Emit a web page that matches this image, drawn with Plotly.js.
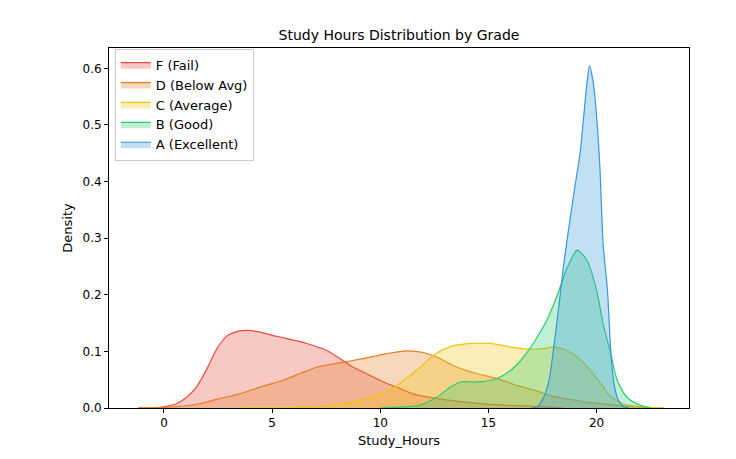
<!DOCTYPE html>
<html>
<head>
<meta charset="utf-8">
<script src="https://cdn.plot.ly/plotly-3.0.1.min.js"></script>
<style>
  body { margin: 0; background: #fff; }
  #chart { width: 736px; height: 459px; }
</style>
</head>
<body>
<div id="chart"></div>
<script>
// grade labels, in legend order
const grades = ["F (Fail)", "D (Below Avg)", "C (Average)", "B (Good)", "A (Excellent)"]
const edgeColors = ["#e74c3c", "#e67e22", "#f1c40f", "#2ecc71", "#3498db"]
const fillColors = [
  "rgba(231,76,60,0.3)",
  "rgba(230,126,34,0.3)",
  "rgba(241,196,15,0.3)",
  "rgba(46,204,113,0.3)",
  "rgba(52,152,219,0.3)",
]

// density curves
const fX = [-1.2, -0.5, 0, 0.6, 1.05, 1.5, 2.0, 2.45, 2.9, 3.35, 3.9, 4.45, 5.05, 5.65, 6.6, 7.5, 8.15, 8.75, 9.4, 10.15, 10.75, 11.5, 12.6, 14.15, 15.7, 17.2, 18.5]
const fY = [0, 0.0005, 0.002, 0.008, 0.019, 0.037, 0.07, 0.105, 0.127, 0.135, 0.137, 0.134, 0.128, 0.123, 0.114, 0.102, 0.087, 0.072, 0.06, 0.046, 0.037, 0.025, 0.017, 0.0095, 0.005, 0.003, 0]

const dX = [-1.2, 0, 1, 1.7, 2.6, 3.5, 4.45, 5.5, 6.3, 7.05, 7.85, 8.6, 9.55, 10.3, 11.2, 12.0, 12.6, 13.55, 14.45, 15.4, 16.3, 17.25, 17.85, 18.8, 20, 21.5, 23.1]
const dY = [0, 0.001, 0.004, 0.008, 0.017, 0.025, 0.037, 0.049, 0.061, 0.072, 0.078, 0.083, 0.09, 0.096, 0.101, 0.098, 0.09, 0.072, 0.061, 0.052, 0.04, 0.03, 0.022, 0.015, 0.008, 0.003, 0]

const cX = [3.5, 6.3, 7.8, 9.4, 10.5, 11.4, 11.85, 12.45, 13.2, 14.15, 15.1, 16.0, 16.8, 17.55, 18.0, 18.6, 19.1, 19.7, 20.2, 20.6, 21.2, 22.0, 23.1]
const cY = [0, 0.001, 0.005, 0.017, 0.033, 0.058, 0.072, 0.093, 0.108, 0.114, 0.114, 0.108, 0.104, 0.105, 0.108, 0.102, 0.09, 0.067, 0.043, 0.022, 0.008, 0.002, 0]

const bX = [10.0, 11.05, 11.85, 12.6, 13.25, 13.7, 14.45, 15.1, 15.7, 16.3, 16.8, 17.25, 17.7, 18.15, 18.65, 19.1, 19.55, 20.0, 20.3, 20.65, 20.95, 21.4, 22.0, 22.5]
const bY = [0, 0.002, 0.005, 0.019, 0.037, 0.046, 0.046, 0.049, 0.058, 0.076, 0.099, 0.125, 0.155, 0.196, 0.249, 0.279, 0.261, 0.208, 0.149, 0.096, 0.049, 0.019, 0.005, 0]

const aX = [17.0, 17.25, 17.55, 17.8, 18.0, 18.25, 18.5, 18.9, 19.25, 19.4, 19.55, 19.67, 19.85, 20.0, 20.15, 20.3, 20.5, 20.65, 20.8, 21.0, 21.25, 21.5]
const aY = [0, 0.002, 0.019, 0.049, 0.102, 0.178, 0.26, 0.367, 0.455, 0.514, 0.573, 0.605, 0.573, 0.514, 0.426, 0.29, 0.208, 0.102, 0.043, 0.014, 0.002, 0]

const xTicks = [0, 5, 10, 15, 20]
const yTicks = [0, 0.1, 0.2, 0.3, 0.4, 0.5, 0.6]

const curves = [[fX, fY], [dX, dY], [cX, cY], [bX, bY], [aX, aY]]

const data = curves.map((c, i) => ({
  x: c[0],
  y: c[1],
  type: "scatter",
  mode: "lines",
  name: grades[i],
  fill: "tozeroy",
  fillcolor: fillColors[i],
  line: { color: edgeColors[i], width: 1.2, shape: "spline", smoothing: 0.7 },
}))

const font = "DejaVu Sans, sans-serif"

const layout = {
  width: 736,
  height: 459,
  margin: { l: 109, r: 47, t: 48, b: 51 },
  paper_bgcolor: "#fff",
  plot_bgcolor: "#fff",
  font: { family: font, size: 12, color: "#000" },
  title: {
    text: "Study Hours Distribution by Grade",
    font: { family: font, size: 14, color: "#000" },
    x: 0.5,
    xref: "paper",
    y: 0.924,
    yanchor: "middle",
  },
  xaxis: {
    range: [-2.54, 24.27],
    tickvals: xTicks,
    ticktext: xTicks.map(String),
    ticks: "outside",
    ticklen: 4,
    tickcolor: "#000",
    showline: true,
    linecolor: "#000",
    linewidth: 1,
    mirror: true,
    showgrid: false,
    zeroline: false,
    title: { text: "Study_Hours", font: { family: font, size: 13 }, standoff: 6 },
  },
  yaxis: {
    range: [0, 0.636],
    tickvals: yTicks,
    ticktext: yTicks.map((v) => v.toFixed(1)),
    ticks: "outside",
    ticklen: 4,
    tickcolor: "#000",
    showline: true,
    linecolor: "#000",
    linewidth: 1,
    mirror: true,
    showgrid: false,
    zeroline: false,
    title: { text: "Density", font: { family: font, size: 13 }, standoff: 6 },
  },
  showlegend: true,
  legend: {
    x: 0.01,
    y: 0.998,
    xanchor: "left",
    yanchor: "top",
    bgcolor: "rgba(255,255,255,0.85)",
    bordercolor: "#cccccc",
    borderwidth: 1,
    font: { family: font, size: 13 },
    traceorder: "normal",
    itemwidth: 30,
    tracegroupgap: 0,
  },
}

Plotly.newPlot("chart", data, layout, { displayModeBar: false, staticPlot: true })
</script>
</body>
</html>
